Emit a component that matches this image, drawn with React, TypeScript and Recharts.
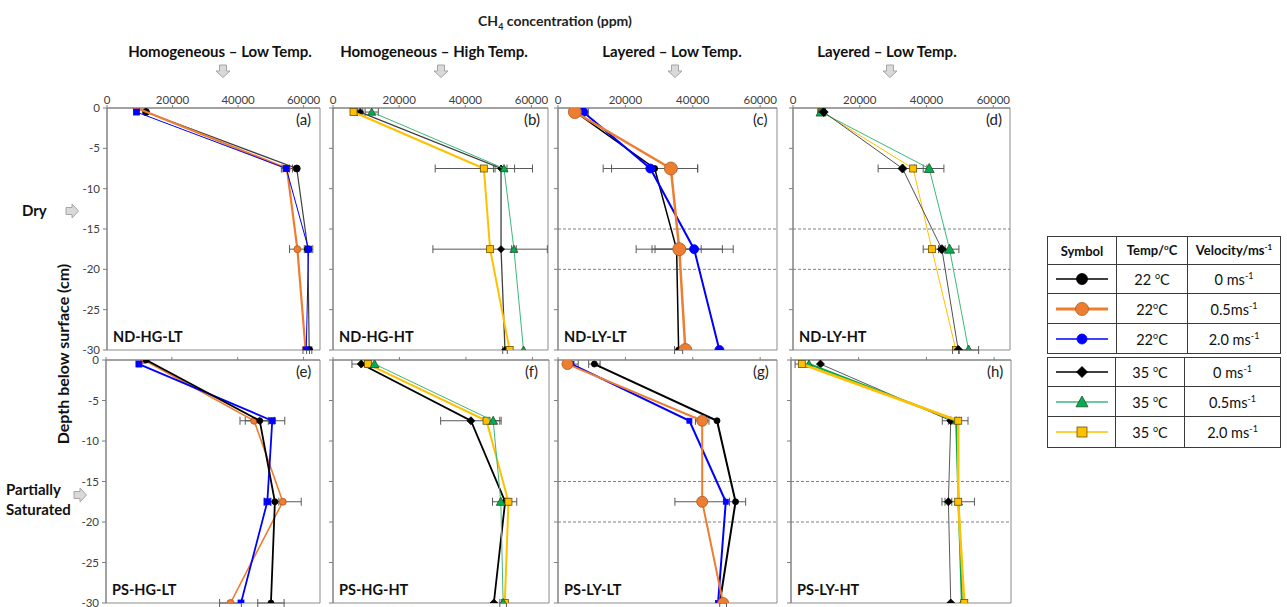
import React from 'react';
import { ScatterChart, Scatter, XAxis, YAxis, ErrorBar, ReferenceLine, ReferenceArea } from 'recharts';

const FONT = "Lato, 'Open Sans', sans-serif";

// depths (cm)
const depthStd = [-0.5, -7.5, -17.5, -30];
const depthSurf = [0, -7.5, -17.5, -30];

const xTicks = [0, 20000, 40000, 60000];
const yTicks = [0, -5, -10, -15, -20, -25, -30];
const layerBounds = [-15, -20];

// (a) ND-HG-LT
const aBlack = [11900, 57900, 61300, 61700];
const aBlackErr = [0, 0, 0, 800];
const aOrange = [9000, 54900, 58100, 60600];
const aOrangeErr = [0, 1700, 2400, 0];
const aBlue = [9000, 54700, 61500, 60800];
const aBlueErr = [0, 1000, 1300, 1000];

// (b) ND-HG-HT
const bBlack = [8200, 50800, 50800, 52000];
const bBlackErr = [800, 1800, 0, 700];
const bGreen = [11700, 51700, 54700, 57600];
const bGreenErr = [2000, 3200, 700, 0];
const bYellow = [6200, 45600, 47500, 53400];
const bYellowErr = [0, 14700, 17300, 0];

// (c) ND-LY-LT
const cBlack = [5200, 28700, 35200, 35800];
const cBlackErr = [0, 12800, 7300, 1200];
const cOrange = [5000, 33500, 36000, 37800];
const cOrangeErr = [0, 0, 12800, 0];
const cBlue = [7500, 27400, 40400, 47900];
const cBlueErr = [1500, 14000, 11600, 0];

// (d) ND-LY-HT
const dBlack = [9200, 32800, 44600, 49500];
const dBlackErr = [0, 7300, 1000, 0];
const dGreen = [8400, 40800, 46900, 52600];
const dGreenErr = [1000, 4400, 2800, 3000];
const dYellow = [8700, 36000, 41600, 48800];
const dYellowErr = [0, 3000, 2600, 1000];

// (e) PS-HG-LT
const eBlack = [12200, 46700, 51300, 50100];
const eBlackErr = [0, 4400, 1200, 4000];
const eOrange = [11500, 45000, 53700, 37800];
const eOrangeErr = [0, 4300, 5600, 3300];
const eBlue = [10000, 50500, 49000, 41000];
const eBlueErr = [0, 3800, 1000, 0];

// (f) PS-HG-HT
const fBlack = [8500, 41500, 51800, 48400];
const fBlackErr = [2800, 9100, 0, 0];
const fGreen = [12500, 48200, 50500, 51200];
const fGreenErr = [0, 2000, 2500, 1000];
const fYellow = [10500, 46200, 52800, 51700];
const fYellowErr = [0, 0, 2500, 0];

// (g) PS-LY-LT
const gBlack = [10800, 47200, 52700, 48000];
const gBlackErr = [1700, 0, 3000, 0];
const gOrange = [2800, 42800, 42800, 49000];
const gOrangeErr = [0, 2000, 8100, 1000];
const gBlue = [4000, 39000, 49800, 47500];
const gBlueErr = [2000, 0, 0, 0];

// (h) PS-LY-HT
const hBlack = [8700, 47200, 46500, 47200];
const hBlackErr = [0, 2500, 1000, 0];
const hGreen = [5300, 48800, 49500, 50500];
const hGreenErr = [0, 0, 0, 0];
const hYellow = [3200, 49400, 49400, 51200];
const hYellowErr = [2000, 2900, 4800, 0];

const ORANGE = '#ED7D31';
const BLUE = '#0000FF';
const GREEN = '#00B050';
const YELLOW = '#FFC000';

type Kind = 'circle' | 'square' | 'diamond' | 'triangle';

function toPoints(xs: number[], ys: number[], errs: number[]) {
  return xs.map((x, i) => ({ x, y: ys[i], err: errs[i] }));
}

function Marker({ kind, cx, cy, size, fill, stroke }: { kind: Kind; cx: number; cy: number; size: number; fill: string; stroke: string }) {
  const h = size / 2;
  if (kind === 'circle') return <circle cx={cx} cy={cy} r={h} fill={fill} stroke={stroke} strokeWidth={0.8} />;
  if (kind === 'square') return <rect x={cx - h} y={cy - h} width={size} height={size} fill={fill} stroke={stroke} strokeWidth={0.8} />;
  if (kind === 'diamond')
    return <polygon points={`${cx},${cy - h} ${cx + h},${cy} ${cx},${cy + h} ${cx - h},${cy}`} fill={fill} stroke={stroke} strokeWidth={0.8} />;
  return <polygon points={`${cx},${cy - h} ${cx + h},${cy + h * 0.8} ${cx - h},${cy + h * 0.8}`} fill={fill} stroke={stroke} strokeWidth={0.8} />;
}

function makeShape(kind: Kind, size: number, fill: string, stroke: string) {
  return (props: any) => {
    const { cx, cy } = props;
    if (cx == null || cy == null) return <g />;
    return <Marker kind={kind} cx={cx} cy={cy} size={size} fill={fill} stroke={stroke} />;
  };
}

type Series = { xs: number[]; ys: number[]; errs: number[]; kind: Kind; size: number; fill: string; stroke: string; line: string; lw: number };
type Panel = { id: string; name: string; L: number; T: number; W: number; H: number; top: boolean; showY: boolean; layered: boolean; series: Series[] };

const panels: Panel[] = [
  {
    id: 'a', name: 'ND-HG-LT', L: 107, T: 108, W: 213, H: 242, top: true, showY: true, layered: false,
    series: [
      { xs: aBlack, ys: depthStd, errs: aBlackErr, kind: 'circle', size: 7, fill: '#000', stroke: '#000', line: '#404040', lw: 1.2 },
      { xs: aOrange, ys: depthSurf, errs: aOrangeErr, kind: 'circle', size: 7, fill: ORANGE, stroke: '#b4561a', line: ORANGE, lw: 2.2 },
      { xs: aBlue, ys: depthStd, errs: aBlueErr, kind: 'square', size: 6, fill: BLUE, stroke: BLUE, line: BLUE, lw: 1 },
    ],
  },
  {
    id: 'b', name: 'ND-HG-HT', L: 333, T: 108, W: 215, H: 242, top: true, showY: false, layered: false,
    series: [
      { xs: bBlack, ys: depthStd, errs: bBlackErr, kind: 'diamond', size: 7, fill: '#000', stroke: '#000', line: '#404040', lw: 1.3 },
      { xs: bGreen, ys: depthStd, errs: bGreenErr, kind: 'triangle', size: 8, fill: GREEN, stroke: '#2b4a2b', line: '#3cb878', lw: 1 },
      { xs: bYellow, ys: depthStd, errs: bYellowErr, kind: 'square', size: 7, fill: YELLOW, stroke: '#6b5200', line: YELLOW, lw: 2 },
    ],
  },
  {
    id: 'c', name: 'ND-LY-LT', L: 558, T: 108, W: 219, H: 242, top: true, showY: false, layered: true,
    series: [
      { xs: cBlack, ys: depthStd, errs: cBlackErr, kind: 'circle', size: 6, fill: '#000', stroke: '#000', line: '#000', lw: 1.5 },
      { xs: cBlue, ys: depthStd, errs: cBlueErr, kind: 'circle', size: 9, fill: BLUE, stroke: BLUE, line: BLUE, lw: 2 },
      { xs: cOrange, ys: depthStd, errs: cOrangeErr, kind: 'circle', size: 13, fill: ORANGE, stroke: '#a85a2a', line: ORANGE, lw: 2.5 },
    ],
  },
  {
    id: 'd', name: 'ND-LY-HT', L: 793, T: 108, W: 217, H: 242, top: true, showY: false, layered: true,
    series: [
      { xs: dYellow, ys: depthStd, errs: dYellowErr, kind: 'square', size: 7, fill: YELLOW, stroke: '#6b5200', line: YELLOW, lw: 1 },
      { xs: dGreen, ys: depthStd, errs: dGreenErr, kind: 'triangle', size: 10, fill: GREEN, stroke: '#2b4a2b', line: '#3cb878', lw: 1 },
      { xs: dBlack, ys: depthStd, errs: dBlackErr, kind: 'diamond', size: 9, fill: '#000', stroke: '#000', line: '#505050', lw: 1 },
    ],
  },
  {
    id: 'e', name: 'PS-HG-LT', L: 106, T: 360, W: 214, H: 243, top: false, showY: true, layered: false,
    series: [
      { xs: eOrange, ys: depthSurf, errs: eOrangeErr, kind: 'circle', size: 7, fill: ORANGE, stroke: '#b4561a', line: ORANGE, lw: 1.6 },
      { xs: eBlue, ys: depthStd, errs: eBlueErr, kind: 'square', size: 6, fill: BLUE, stroke: BLUE, line: BLUE, lw: 1.8 },
      { xs: eBlack, ys: depthSurf, errs: eBlackErr, kind: 'circle', size: 6, fill: '#000', stroke: '#000', line: '#000', lw: 1.8 },
    ],
  },
  {
    id: 'f', name: 'PS-HG-HT', L: 333, T: 360, W: 216, H: 243, top: false, showY: false, layered: false,
    series: [
      { xs: fBlack, ys: depthStd, errs: fBlackErr, kind: 'diamond', size: 8, fill: '#000', stroke: '#000', line: '#000', lw: 1.8 },
      { xs: fYellow, ys: depthStd, errs: fYellowErr, kind: 'square', size: 7, fill: YELLOW, stroke: '#6b5200', line: YELLOW, lw: 2 },
      { xs: fGreen, ys: depthStd, errs: fGreenErr, kind: 'triangle', size: 9, fill: GREEN, stroke: '#2b4a2b', line: '#3cb878', lw: 1 },
    ],
  },
  {
    id: 'g', name: 'PS-LY-LT', L: 558, T: 360, W: 219, H: 243, top: false, showY: false, layered: true,
    series: [
      { xs: gBlack, ys: depthStd, errs: gBlackErr, kind: 'circle', size: 6, fill: '#000', stroke: '#000', line: '#000', lw: 2 },
      { xs: gBlue, ys: depthStd, errs: gBlueErr, kind: 'square', size: 5, fill: BLUE, stroke: BLUE, line: BLUE, lw: 2 },
      { xs: gOrange, ys: depthStd, errs: gOrangeErr, kind: 'circle', size: 11, fill: ORANGE, stroke: '#a85a2a', line: ORANGE, lw: 2 },
    ],
  },
  {
    id: 'h', name: 'PS-LY-HT', L: 791, T: 360, W: 220, H: 243, top: false, showY: false, layered: true,
    series: [
      { xs: hBlack, ys: depthStd, errs: hBlackErr, kind: 'diamond', size: 8, fill: '#000', stroke: '#000', line: '#595959', lw: 1 },
      { xs: hGreen, ys: depthStd, errs: hGreenErr, kind: 'triangle', size: 8, fill: GREEN, stroke: '#2b4a2b', line: '#00a651', lw: 2 },
      { xs: hYellow, ys: depthStd, errs: hYellowErr, kind: 'square', size: 7, fill: YELLOW, stroke: '#6b5200', line: YELLOW, lw: 2.5 },
    ],
  },
];

const ML = 40;
const MT = 30;

function PanelChart({ p }: { p: Panel }) {
  const tickStyle = { fontSize: 11.5, fill: '#404040', fontFamily: FONT };
  return (
    <div style={{ position: 'absolute', left: p.L - ML, top: p.T - MT }}>
      <ScatterChart width={p.W + ML + 10} height={p.H + MT + 12} margin={{ top: 0, right: 10, bottom: 12, left: 0 }}>
        <XAxis
          type="number"
          dataKey="x"
          orientation="top"
          domain={[0, 65000]}
          ticks={xTicks}
          allowDataOverflow
          height={MT}
          tickSize={3}
          tickMargin={1}
          interval={0}
          tick={tickStyle}
          tickFormatter={p.top ? (v: number) => String(v) : () => ''}
          stroke="#7f7f7f"
        />
        <YAxis
          type="number"
          dataKey="y"
          domain={[-30, 0]}
          ticks={yTicks}
          allowDataOverflow
          width={ML}
          tickSize={4}
          tickMargin={3}
          interval={0}
          tick={tickStyle}
          tickFormatter={p.showY ? (v: number) => String(v) : () => ''}
          stroke="#7f7f7f"
        />
        <ReferenceArea x1={0} x2={65000} y1={-30} y2={0} fill="none" fillOpacity={0} stroke="#8c8c8c" strokeWidth={1} ifOverflow="visible" />
        {p.layered &&
          layerBounds.map((b) => (
            <ReferenceLine key={b} y={b} stroke="#808080" strokeDasharray="3 2" strokeWidth={1} />
          ))}
        {p.series.map((s, i) => (
          <Scatter
            key={i}
            data={toPoints(s.xs, s.ys, s.errs)}
            fill={s.fill}
            stroke={s.line}
            line={{ stroke: s.line, strokeWidth: s.lw }}
            lineType="joint"
            shape={makeShape(s.kind, s.size, s.fill, s.stroke)}
            isAnimationActive={false}
          >
            <ErrorBar dataKey="err" direction="x" width={4} stroke="#595959" strokeWidth={1} />
          </Scatter>
        ))}
      </ScatterChart>
      <div style={{ position: 'absolute', left: ML + p.W - 24, top: MT + 2, fontSize: 15, fontFamily: FONT, color: '#222' }}>({p.id})</div>
      <div style={{ position: 'absolute', left: ML + 6, top: MT + p.H - 22, fontSize: 14.5, fontWeight: 700, fontFamily: FONT, color: '#111' }}>{p.name}</div>
    </div>
  );
}

function DownArrow({ cx, cy }: { cx: number; cy: number }) {
  const pts = [
    [cx - 3.5, cy - 6], [cx + 3.5, cy - 6], [cx + 3.5, cy], [cx + 7, cy], [cx, cy + 6.5], [cx - 7, cy], [cx - 3.5, cy],
  ].map((q) => q.join(',')).join(' ');
  return <polygon points={pts} fill="#d9d9d9" stroke="#a6a6a6" strokeWidth={1} />;
}

function RightArrow({ cx, cy }: { cx: number; cy: number }) {
  const pts = [
    [cx - 6, cy - 3.5], [cx, cy - 3.5], [cx, cy - 7], [cx + 6.5, cy], [cx, cy + 7], [cx, cy + 3.5], [cx - 6, cy + 3.5],
  ].map((q) => q.join(',')).join(' ');
  return <polygon points={pts} fill="#d9d9d9" stroke="#a6a6a6" strokeWidth={1} />;
}

const colTitles = ['Homogeneous – Low Temp.', 'Homogeneous – High Temp.', 'Layered – Low Temp.', 'Layered – Low Temp.'];
const colTitleX = [220, 434, 672, 887];
const arrowX = [223, 441, 675, 890];

type LegendRow = { kind: Kind; fill: string; stroke: string; line: string; lw: number; size: number; temp: string; vel: string };
const legendTop: LegendRow[] = [
  { kind: 'circle', fill: '#000', stroke: '#000', line: '#000', lw: 1.5, size: 11, temp: '22 ', vel: '0 ms' },
  { kind: 'circle', fill: ORANGE, stroke: '#a85a2a', line: ORANGE, lw: 3, size: 13, temp: '22', vel: '0.5ms' },
  { kind: 'circle', fill: BLUE, stroke: BLUE, line: BLUE, lw: 1.5, size: 10, temp: '22', vel: '2.0 ms' },
];
const legendBottom: LegendRow[] = [
  { kind: 'diamond', fill: '#000', stroke: '#000', line: '#000', lw: 1.5, size: 11, temp: '35 ', vel: '0 ms' },
  { kind: 'triangle', fill: GREEN, stroke: '#2b4a2b', line: '#3cb878', lw: 1.5, size: 12, temp: '35 ', vel: '0.5ms' },
  { kind: 'square', fill: YELLOW, stroke: '#6b5200', line: YELLOW, lw: 1.5, size: 10, temp: '35 ', vel: '2.0 ms' },
];

const cell: React.CSSProperties = { border: '1.5px solid #3a3a3a', textAlign: 'center', verticalAlign: 'middle', padding: 0 };

function LegendSymbol({ r }: { r: LegendRow }) {
  return (
    <svg width={60} height={16} style={{ display: 'block', margin: '0 auto' }}>
      <line x1={4} y1={8} x2={56} y2={8} stroke={r.line} strokeWidth={r.lw} />
      <Marker kind={r.kind} cx={30} cy={8} size={r.size} fill={r.fill} stroke={r.stroke} />
    </svg>
  );
}

function LegendTable({ rows, top, header, widths, heights }: { rows: LegendRow[]; top: number; header: boolean; widths: number[]; heights: number[] }) {
  return (
    <table style={{ position: 'absolute', left: 1047, top, borderCollapse: 'collapse', tableLayout: 'fixed', fontFamily: FONT, fontSize: 14.5, color: '#111' }}>
      <colgroup>
        {widths.map((w, i) => <col key={i} style={{ width: w }} />)}
      </colgroup>
      <tbody>
        {header && (
          <tr style={{ height: heights[0] }}>
            <td style={{ ...cell, fontWeight: 700, fontSize: 13 }}>Symbol</td>
            <td style={{ ...cell, fontWeight: 700, fontSize: 13 }}>Temp/<sup style={{ fontSize: 8 }}>o</sup>C</td>
            <td style={{ ...cell, fontWeight: 700, fontSize: 13 }}>Velocity/ms<sup style={{ fontSize: 8 }}>-1</sup></td>
          </tr>
        )}
        {rows.map((r, i) => (
          <tr key={i} style={{ height: heights[header ? i + 1 : i] }}>
            <td style={cell}><LegendSymbol r={r} /></td>
            <td style={cell}>{r.temp}<sup style={{ fontSize: 9 }}>o</sup>C</td>
            <td style={cell}>{r.vel}<sup style={{ fontSize: 9 }}>-1</sup></td>
          </tr>
        ))}
      </tbody>
    </table>
  );
}

export default function App() {
  return (
    <div style={{ position: 'absolute', left: 0, top: 0, width: 1287, height: 607, background: '#fff', overflow: 'hidden', fontFamily: FONT }}>
      <div style={{ position: 'absolute', left: 455, width: 200, top: 12, textAlign: 'center', fontSize: 14, fontWeight: 700, color: '#222' }}>
        CH<sub style={{ fontSize: 9 }}>4</sub> concentration (ppm)
      </div>
      {colTitles.map((t, i) => (
        <div key={i} style={{ position: 'absolute', left: colTitleX[i] - 120, width: 240, top: 42, textAlign: 'center', fontSize: 15, fontWeight: 700, color: '#111' }}>
          {t}
        </div>
      ))}
      <svg width={1287} height={607} style={{ position: 'absolute', left: 0, top: 0, pointerEvents: 'none' }}>
        {arrowX.map((x, i) => <DownArrow key={i} cx={x} cy={71} />)}
        <RightArrow cx={72} cy={211} />
        <RightArrow cx={80} cy={495} />
      </svg>
      {panels.map((p) => <PanelChart key={p.id} p={p} />)}
      <div style={{ position: 'absolute', left: 22, top: 201, fontSize: 15, fontWeight: 700, color: '#111' }}>Dry</div>
      <div style={{ position: 'absolute', left: 6, top: 479, fontSize: 15, fontWeight: 700, color: '#111', lineHeight: '20px' }}>
        Partially<br />Saturated
      </div>
      <div style={{ position: 'absolute', left: 62, top: 354, transform: 'translate(-50%, -50%) rotate(-90deg)', whiteSpace: 'nowrap', fontSize: 16, fontWeight: 700, color: '#111' }}>
        Depth below surface (cm)
      </div>
      <LegendTable rows={legendTop} top={236} header widths={[69, 71, 93]} heights={[28, 29, 30, 30]} />
      <LegendTable rows={legendBottom} top={357} header={false} widths={[68, 69, 96]} heights={[29, 30, 31]} />
    </div>
  );
}
